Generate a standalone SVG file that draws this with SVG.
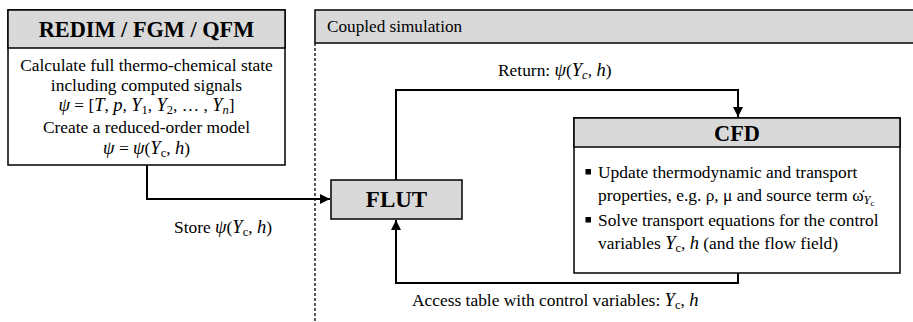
<svg xmlns="http://www.w3.org/2000/svg" width="913" height="322" viewBox="0 0 913 322">
<style>
text{font-family:"Liberation Serif","Times New Roman",serif;fill:#000}
.t{font-size:17.4px}
.h{font-size:22.3px;font-weight:bold}
.i{font-style:italic}
.m{font-style:italic;font-size:18.5px}
.s{font-size:12.5px}
.box{fill:#fff;stroke:#000;stroke-width:1.5}
.hd{fill:#d9d9d9;stroke:#000;stroke-width:1.5}
.ln{fill:none;stroke:#000;stroke-width:2}
</style>
<defs>
<marker id="ar" viewBox="0 0 10 10" refX="10" refY="5" markerWidth="5" markerHeight="5" orient="auto" markerUnits="strokeWidth">
<path d="M0,0 L10,5 L0,10 z" fill="#000"/>
</marker>
</defs>
<g id="coupled">
<rect class="hd" x="315" y="10" width="610" height="33"/>
<text x="327" y="32" style="font-size:17.2px">Coupled simulation</text>
<line x1="315" y1="43" x2="315" y2="322" stroke="#000" stroke-width="1.3" stroke-dasharray="3,2"/>
</g>
<g id="redim">
<rect class="box" x="8" y="10" width="277" height="155"/>
<rect class="hd" x="8" y="10" width="277" height="38"/>
<text class="h" x="146.5" y="37" text-anchor="middle">REDIM / FGM / QFM</text>
<text class="t" x="146.5" y="71" text-anchor="middle">Calculate full thermo-chemical state</text>
<text class="t" x="146.5" y="91" text-anchor="middle">including computed signals</text>
<text class="t" x="146.5" y="111" text-anchor="middle"><tspan class="m">ψ</tspan> = [<tspan class="m">T</tspan>, <tspan class="m">p</tspan>, <tspan class="m">Y</tspan><tspan class="s" dy="3">1</tspan><tspan dy="-3">, </tspan><tspan class="m">Y</tspan><tspan class="s" dy="3">2</tspan><tspan dy="-3">, … , </tspan><tspan class="m">Y</tspan><tspan class="s i" dy="3">n</tspan><tspan dy="-3">]</tspan></text>
<text class="t" x="146.5" y="133" text-anchor="middle">Create a reduced-order model</text>
<text class="t" x="146.5" y="154" text-anchor="middle"><tspan class="m">ψ</tspan> = <tspan class="m">ψ</tspan>(<tspan class="m">Y</tspan><tspan class="s" dy="3">c</tspan><tspan dy="-3">, </tspan><tspan class="m">h</tspan>)</text>
</g>
<g id="flut">
<rect class="hd" x="331" y="180" width="131" height="39"/>
<text class="h" x="396.5" y="207" text-anchor="middle" style="font-size:23px">FLUT</text>
</g>
<g id="cfd">
<rect class="box" x="574" y="118" width="326" height="155"/>
<rect class="hd" x="574" y="118" width="326" height="29"/>
<text class="h" x="737" y="141" text-anchor="middle">CFD</text>
<rect x="585.5" y="169" width="5.5" height="5.5" fill="#000"/>
<rect x="585.5" y="217" width="5.5" height="5.5" fill="#000"/>
<text class="t" x="598" y="178">Update thermodynamic and transport</text>
<text class="t" x="598" y="201">properties, e.g. ρ, μ and source term ω̇<tspan class="s i" dy="3">Y</tspan><tspan style="font-size:9px" dy="2">c</tspan></text>
<text class="t" x="598" y="226">Solve transport equations for the control</text>
<text class="t" x="598" y="249">variables <tspan class="m">Y</tspan><tspan class="s" dy="3">c</tspan><tspan dy="-3">, </tspan><tspan class="m">h</tspan> (and the flow field)</text>
</g>
<g id="connectors">
<polyline class="ln" points="147,165 147,199 330,199" marker-end="url(#ar)"/>
<polyline class="ln" points="396,180 396,90 738,90 738,117" marker-end="url(#ar)"/>
<polyline class="ln" points="738,273 738,283 396,283 396,220" marker-end="url(#ar)"/>
<text class="t" x="174" y="233">Store <tspan class="m">ψ</tspan>(<tspan class="m">Y</tspan><tspan class="s" dy="3">c</tspan><tspan dy="-3">, </tspan><tspan class="m">h</tspan>)</text>
<text class="t" x="498" y="76">Return: <tspan class="m">ψ</tspan>(<tspan class="m">Y</tspan><tspan class="s i" dy="3">c</tspan><tspan dy="-3">, </tspan><tspan class="m">h</tspan>)</text>
<text class="t" x="412" y="306">Access table with control variables: <tspan class="m">Y</tspan><tspan class="s" dy="3">c</tspan><tspan dy="-3">, </tspan><tspan class="m">h</tspan></text>
</g>
</svg>
